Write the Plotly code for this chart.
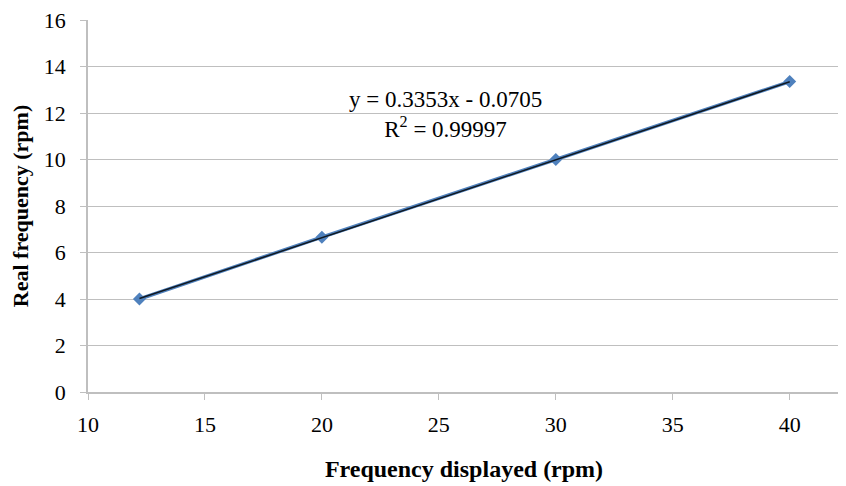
import plotly.graph_objects as go

x_vals = [12.2, 20, 30, 40]
y_vals = [4.0, 6.66, 10.0, 13.35]
slope = 0.3353
intercept = -0.0705
x_ticks = [10, 15, 20, 25, 30, 35, 40]
y_ticks = [0, 2, 4, 6, 8, 10, 12, 14, 16]

trend_x = [min(x_vals), max(x_vals)]
trend_y = [slope * v + intercept for v in trend_x]

font = "Liberation Serif"
fig = go.Figure()
fig.add_trace(go.Scatter(x=x_vals, y=y_vals, mode="lines+markers",
                         line=dict(color="#4F81BD", width=3.5),
                         marker=dict(symbol="diamond", size=10, color="#4F81BD"),
                         showlegend=False))
fig.add_trace(go.Scatter(x=trend_x, y=trend_y, mode="lines",
                         line=dict(color="#101820", width=1.5),
                         showlegend=False))

fig.add_annotation(x=0.476, y=0.745, xref="paper", yref="paper",
                   xanchor="center", yanchor="middle",
                   text="y = 0.3353x - 0.0705<br>R<sup>2</sup> = 0.99997",
                   showarrow=False, font=dict(family=font, size=23, color="black"),
                   align="center")

fig.update_layout(
    width=846, height=486,
    margin=dict(l=80, r=14, t=12, b=102),
    paper_bgcolor="white", plot_bgcolor="white",
    font=dict(family=font, size=22, color="black"),
    xaxis=dict(range=[10, 42.15], tickvals=x_ticks, showgrid=False, automargin=False,
               showline=True, linecolor="#BFBFBF", linewidth=1.5,
               ticks="outside", ticklen=6, tickcolor="#BFBFBF",
               zeroline=False, ticklabelstandoff=6, ticklabeloverflow="allow",
               title=dict(text="<b>Frequency displayed (rpm)</b>", font=dict(size=24), standoff=24)),
    yaxis=dict(range=[0, 16], tickvals=y_ticks, showgrid=True, gridcolor="#BFBFBF",
               gridwidth=1.2, showline=True, linecolor="#BFBFBF", linewidth=1.5,
               ticks="outside", ticklen=6, tickcolor="#BFBFBF", zeroline=False,
               ticklabelstandoff=10, ticklabeloverflow="allow", automargin=False,
               title=dict(text="<b>Real frequency (rpm)</b>", font=dict(size=22), standoff=12)),
)

fig.write_html("out.html")
